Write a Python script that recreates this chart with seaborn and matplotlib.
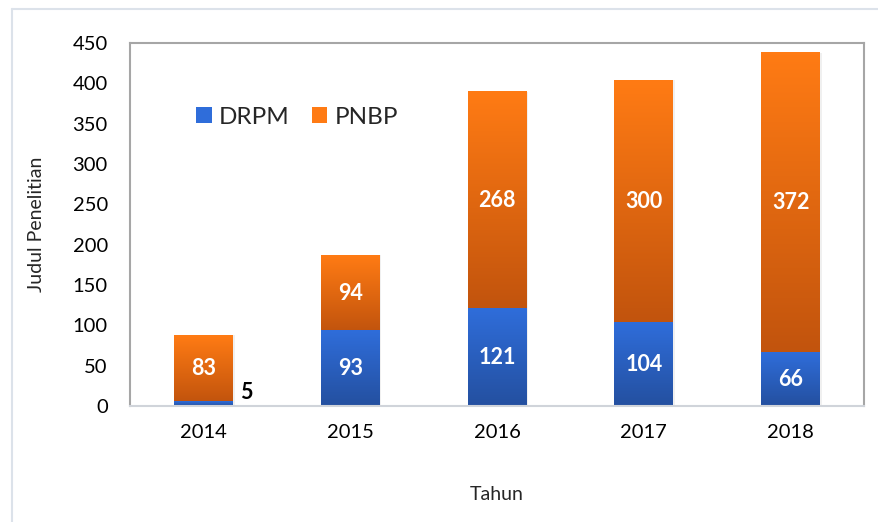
import numpy as np
import pandas as pd
import matplotlib
matplotlib.use("Agg")
import matplotlib.pyplot as plt
from matplotlib.colors import LinearSegmentedColormap
from matplotlib.lines import Line2D
from matplotlib.patches import Rectangle
import seaborn as sns

years = ["2014", "2015", "2016", "2017", "2018"]
drpm = [5, 93, 121, 104, 66]
pnbp = [83, 94, 268, 300, 372]

blue_top, blue_bottom = "#2F6DDA", "#2450A0"
orange_top, orange_bottom = "#FF7B14", "#C2540D"

sns.set_style("white")
plt.rcParams["font.family"] = ["Lato", "DejaVu Sans"]

df = pd.DataFrame({"year": years, "drpm": drpm, "pnbp": pnbp})
df["total"] = df["drpm"] + df["pnbp"]

fig = plt.figure(figsize=(8.79, 5.22), dpi=100)
ax = fig.add_axes([130 / 879, 1 - 406 / 522, 734 / 879, 363 / 522])

sns.barplot(data=df, x="year", y="total", color=orange_top, width=0.4, ax=ax)
sns.barplot(data=df, x="year", y="drpm", color=blue_top, width=0.4, ax=ax)

n = len(years)
total_patches = ax.patches[:n]
drpm_patches = ax.patches[n:2 * n]


def grad_fill(x0, w, y0, y1, top, bottom):
    cmap = LinearSegmentedColormap.from_list("g", [bottom, top])
    g = np.linspace(0, 1, 100).reshape(-1, 1)
    ax.imshow(g, cmap=cmap, origin="lower", aspect="auto",
              extent=[x0, x0 + w, y0, y1], zorder=2, interpolation="bicubic")


for p_tot, p_d in zip(total_patches, drpm_patches):
    x0, w = p_tot.get_x(), p_tot.get_width()
    d = p_d.get_height()
    t = p_tot.get_height()
    # soft shadow
    ax.add_patch(Rectangle((x0 + 0.012, 0), w, t, facecolor="#000000", alpha=0.06,
                           edgecolor="none", zorder=1.5))
    grad_fill(x0, w, d, t, orange_top, orange_bottom)
    grad_fill(x0, w, 0, d, blue_top, blue_bottom)
    p_tot.set_visible(False)
    p_d.set_visible(False)

# value labels
for i, (d, p) in enumerate(zip(drpm, pnbp)):
    x = total_patches[i].get_x() + total_patches[i].get_width() / 2
    ax.text(x, d + p / 2, str(p), ha="center", va="center", color="white",
            fontsize=15.5, fontweight="bold", zorder=3)
    if d >= 20:
        ax.text(x, d / 2, str(d), ha="center", va="center", color="white",
                fontsize=15.5, fontweight="bold", zorder=3)
    else:
        ax.text(total_patches[i].get_x() + total_patches[i].get_width() + 0.05, d + 12,
                str(d), ha="left", va="center", color="black",
                fontsize=15.5, fontweight="bold", zorder=3)

ax.set_xlim(-0.5, n - 0.5)
ax.set_ylim(0, 450)
ax.set_yticks(range(0, 451, 50))
ax.tick_params(axis="both", length=0, labelsize=14.5, colors="#000000")
ax.tick_params(axis="x", pad=13)
ax.tick_params(axis="y", pad=16)
ax.set_xlabel("Tahun", fontsize=14, labelpad=32)
ax.set_ylabel("Judul Penelitian", fontsize=14, labelpad=20)

for side in ["left", "top", "right"]:
    ax.spines[side].set_color("#A6A6A6")
    ax.spines[side].set_linewidth(1.5)
ax.spines["bottom"].set_color("#D0D4DA")
ax.spines["bottom"].set_linewidth(1.5)

# legend
handles = [Rectangle((0, 0), 1, 1, facecolor=blue_top, edgecolor="none"),
           Rectangle((0, 0), 1, 1, facecolor=orange_top, edgecolor="none")]
ax.legend(handles, ["DRPM", "PNBP"], loc="upper left", bbox_to_anchor=(0.06, 0.885),
          ncol=2, frameon=False, fontsize=17.5, handlelength=0.65, handleheight=0.65,
          handletextpad=0.3, columnspacing=0.9)

# outer chart border (left and top)
fig.add_artist(Line2D([12 / 879, 12 / 879], [0, 1 - 9 / 522], transform=fig.transFigure,
                      color="#DCE2EA", lw=1.5))
fig.add_artist(Line2D([12 / 879, 1], [1 - 9 / 522, 1 - 9 / 522], transform=fig.transFigure,
                      color="#DCE2EA", lw=1.5))

fig.savefig("out.png", dpi=100)
